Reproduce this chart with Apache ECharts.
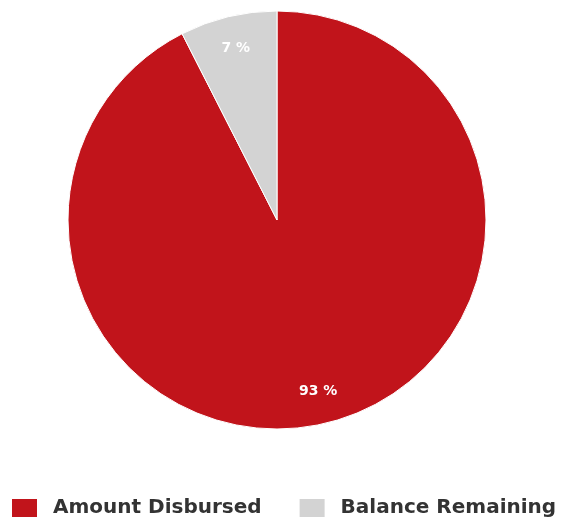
<!DOCTYPE html>
<html>
<head>
<meta charset="utf-8">
<script src="https://cdn.jsdelivr.net/npm/echarts@6/dist/echarts.min.js"></script>
<style>
html,body{margin:0;padding:0;background:#fff;}
#chart{width:563px;height:520px;}
</style>
</head>
<body>
<div id="chart"></div>
<script>
const categories = ['Amount Disbursed', 'Balance Remaining'];
const values = [92.5, 7.5];
const percentLabels = ['93 %', '7 %'];
const colors = ['#c1141b', '#d3d3d3'];

const chart = echarts.init(document.getElementById('chart'));
const pieData = categories.map((c, i) => ({ name: c, value: values[i], itemStyle: { color: colors[i] } }));
const labelData = categories.map((c, i) => ({ name: c, value: values[i], label: { formatter: percentLabels[i] } }));

chart.setOption({
  animation: false,
  legend: {
    data: categories,
    left: 10,
    top: 497,
    width: 553,
    padding: 0,
    orient: 'horizontal',
    icon: 'rect',
    itemWidth: 27,
    itemHeight: 20,
    itemGap: 36,
    selectedMode: false,
    textStyle: {
      fontFamily: 'DejaVu Sans',
      fontWeight: 'bold',
      fontSize: 20,
      color: '#333',
      padding: [0, 0, 0, 10]
    }
  },
  series: [
    {
      type: 'pie',
      center: [277, 220],
      radius: [0, 209],
      startAngle: 90,
      clockwise: true,
      label: { show: false },
      labelLine: { show: false },
      itemStyle: { borderColor: '#ffffff', borderWidth: 1 },
      emphasis: { disabled: true },
      data: pieData
    },
    {
      type: 'pie',
      center: [277, 220],
      radius: [138, 209],
      startAngle: 90,
      clockwise: true,
      silent: true,
      itemStyle: { color: 'rgba(0,0,0,0)', borderWidth: 0 },
      label: {
        show: true,
        position: 'inside',
        color: '#ffffff',
        fontFamily: 'DejaVu Sans',
        fontSize: 14,
        fontWeight: 'bold'
      },
      labelLine: { show: false },
      emphasis: { disabled: true },
      data: labelData
    }
  ]
});
</script>
</body>
</html>
